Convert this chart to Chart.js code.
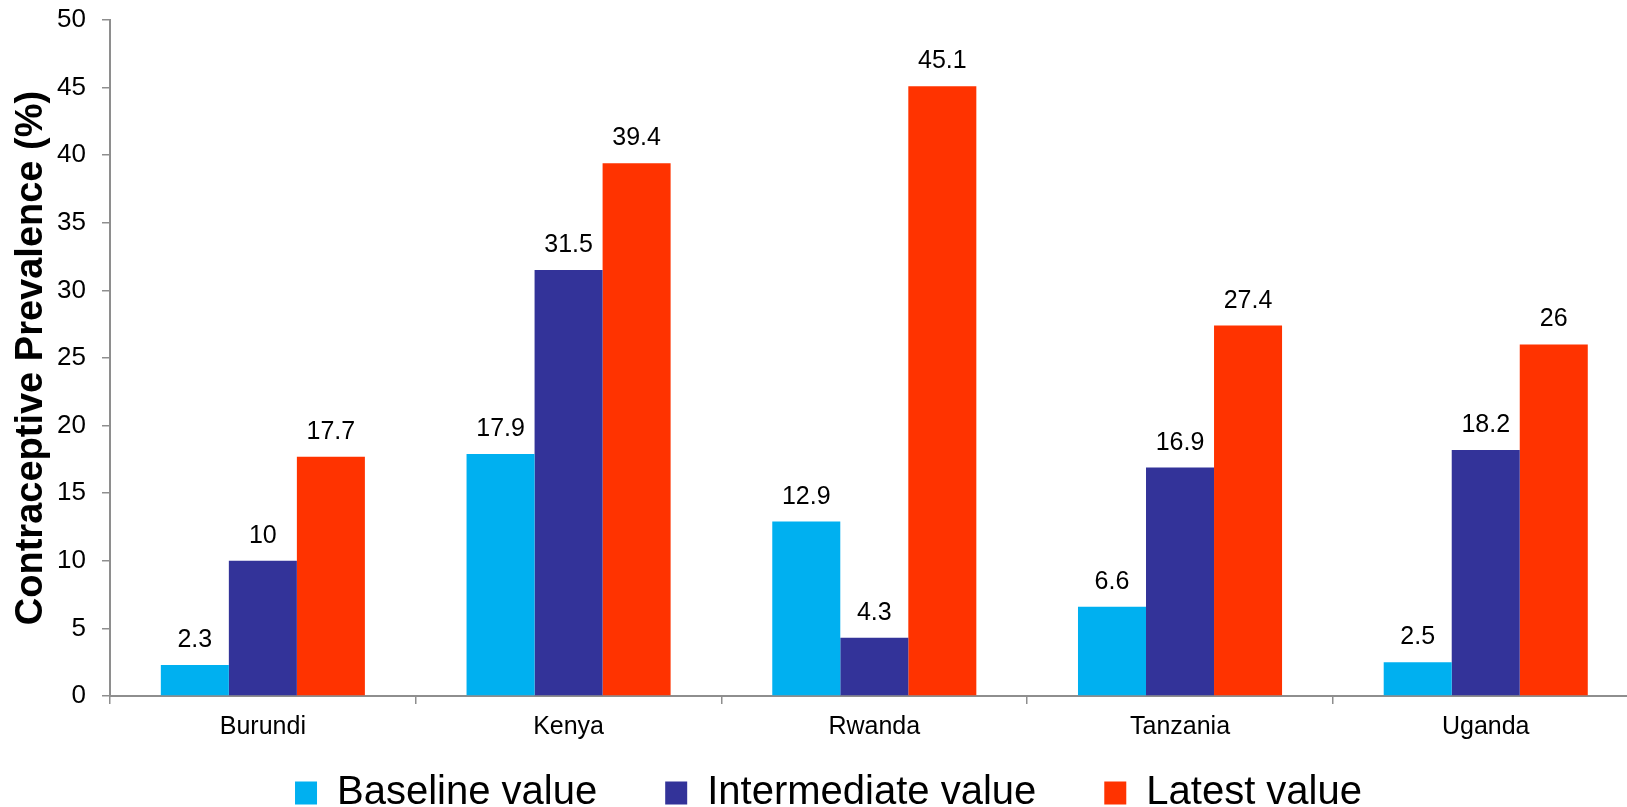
<!DOCTYPE html>
<html>
<head>
<meta charset="utf-8">
<script src="https://cdn.jsdelivr.net/npm/chart.js@4/dist/chart.umd.min.js"></script>
<style>
  html, body { margin: 0; padding: 0; background: #fff; overflow: hidden; }
  canvas { display: block; }
</style>
</head>
<body>
<canvas id="chart" width="1657" height="807"></canvas>
<script>
// Contraceptive prevalence by country
const countries = ['Burundi', 'Kenya', 'Rwanda', 'Tanzania', 'Uganda'];
const baselineValues = [2.3, 17.9, 12.9, 6.6, 2.5];
const intermediateValues = [10, 31.5, 4.3, 16.9, 18.2];
const latestValues = [17.7, 39.4, 45.1, 27.4, 26];
const seriesNames = ['Baseline value', 'Intermediate value', 'Latest value'];
const yAxisTitle = 'Contraceptive Prevalence (%)';

const FONT = '"Liberation Sans", Arial, sans-serif';
const AXIS_GRAY = '#8e8e8e';

Chart.defaults.font.family = FONT;
Chart.defaults.color = '#000';

// Writes each bar's value just above it
const valueLabels = {
  id: 'valueLabels',
  afterDatasetsDraw(chart) {
    const ctx = chart.ctx;
    ctx.save();
    ctx.font = '25px ' + FONT;
    ctx.fillStyle = '#000';
    ctx.textAlign = 'center';
    ctx.textBaseline = 'alphabetic';
    chart.data.datasets.forEach((ds, i) => {
      const meta = chart.getDatasetMeta(i);
      meta.data.forEach((bar, j) => {
        ctx.fillText(String(ds.data[j]), bar.x, bar.y - 18);
      });
    });
    ctx.restore();
  }
};

// The category axis is kept thin in the layout so the legend can sit close;
// give its label clip area room for the country names after layout.
const categoryLabelRoom = {
  id: 'categoryLabelRoom',
  afterLayout(chart) {
    const x = chart.scales.x;
    x.bottom = x.top + 70;
    x.height = 70;
  }
};

new Chart(document.getElementById('chart'), {
  type: 'bar',
  data: {
    labels: countries,
    datasets: [
      { label: seriesNames[0], data: baselineValues, backgroundColor: '#00B0F0' },
      { label: seriesNames[1], data: intermediateValues, backgroundColor: '#333399' },
      { label: seriesNames[2], data: latestValues, backgroundColor: '#FF3300' }
    ]
  },
  options: {
    responsive: false,
    animation: false,
    devicePixelRatio: 1,
    layout: { padding: { top: 20, left: 18.4, right: 18.4, bottom: 0 } },
    datasets: {
      bar: { categoryPercentage: 0.6675, barPercentage: 1.0, borderWidth: 0 }
    },
    plugins: {
      legend: {
        position: 'bottom',
        maxHeight: 102,
        labels: {
          font: { size: 40 },
          color: '#000',
          boxWidth: 22,
          boxHeight: 23,
          padding: 68
        }
      },
      tooltip: { enabled: false }
    },
    scales: {
      x: {
        grid: {
          display: true,
          offset: true,
          drawOnChartArea: false,
          drawTicks: true,
          tickLength: 8,
          color: AXIS_GRAY,
          lineWidth: 1.5
        },
        border: { display: true, color: AXIS_GRAY, width: 2 },
        ticks: { font: { size: 25 }, color: '#000', padding: 8, maxRotation: 0, autoSkip: false },
        afterFit(scale) { scale.height = 9; }
      },
      y: {
        min: 0,
        max: 50,
        ticks: { stepSize: 5, font: { size: 26 }, color: '#000', padding: 16 },
        grid: {
          display: true,
          drawOnChartArea: false,
          drawTicks: true,
          tickLength: 8,
          color: AXIS_GRAY,
          lineWidth: 1.5
        },
        border: { display: true, color: AXIS_GRAY, width: 2 },
        title: {
          display: true,
          text: yAxisTitle,
          color: '#000',
          font: { size: 38, weight: 'bold' },
          padding: { top: -10, bottom: 0 }
        },
        afterFit(scale) {
          scale.width = 91.6;
          scale.paddingTop = 0;
          scale.paddingBottom = 0;
        }
      }
    }
  },
  plugins: [valueLabels, categoryLabelRoom]
});
</script>
</body>
</html>
